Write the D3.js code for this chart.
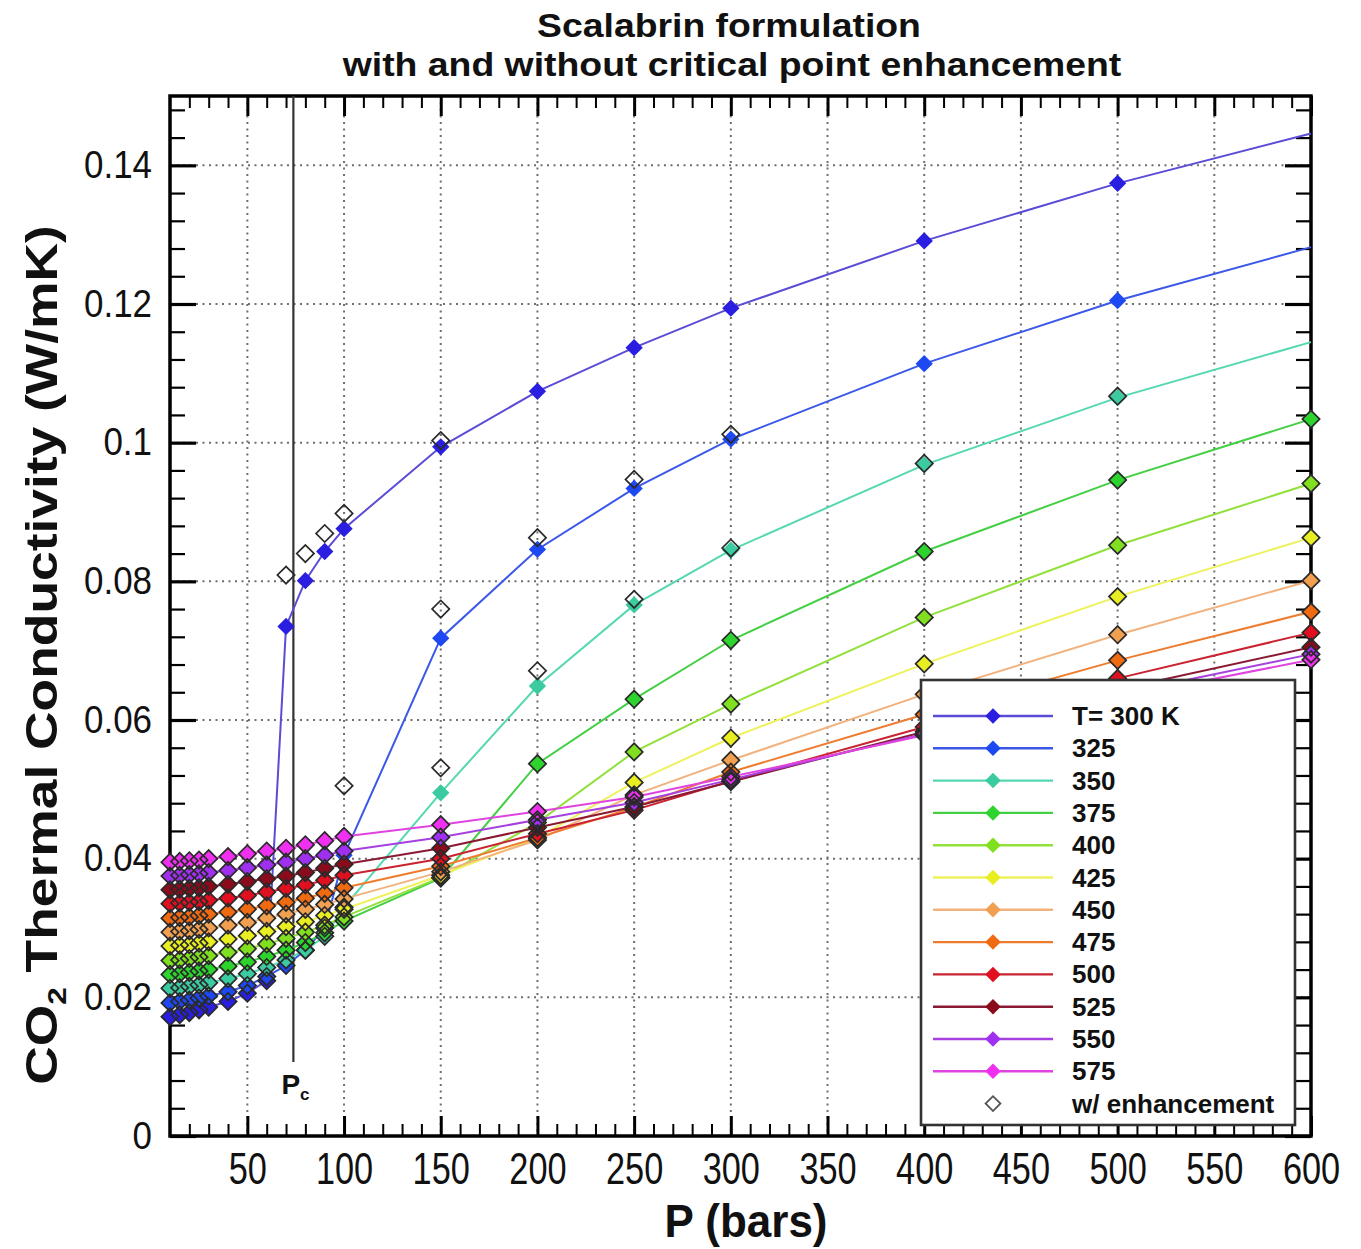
<!DOCTYPE html>
<html><head><meta charset="utf-8">
<script src="https://cdn.jsdelivr.net/npm/d3@7"></script>
<style>body{margin:0;background:#fff} svg{display:block}</style>
</head><body>
<svg id="c" width="1361" height="1249"></svg>
<script>
// ---------------- DATA ----------------
const titleLines = ["Scalabrin formulation", "with and without critical point enhancement"];
const xAxisTitle = "P (bars)";
const pressures = [10,15,20,25,30,40,50,60,70,80,90,100,150,200,250,300,400,500,600];
const temperatures = [300,325,350,375,400,425,450,475,500,525,550,575];
const legendLabels = ["T= 300 K","325","350","375","400","425","450","475","500","525","550","575"];
const enhancementLabel = "w/ enhancement";
const criticalPressure = 73.8;

const k300 = [.0172,.0175,.0178,.0182,.0186,.0194,.0206,.0224,.0735,.0801,.0843,.0876,.0994,.1074,.1137,.1194,.1291,.1374,.1446];
const k325 = [.0192,.0194,.0196,.0199,.0202,.0208,.0217,.0230,.0246,.0268,.0300,.0405,.0718,.0846,.0934,.1005,.1114,.1205,.1282];
const k350 = [.0213,.0214,.0216,.0218,.0221,.0227,.0234,.0243,.0254,.0268,.0288,.0330,.0495,.0649,.0766,.0845,.0968,.1065,.1145];
const k375 = [.0233,.0234,.0236,.0238,.0240,.0245,.0251,.0259,.0268,.0279,.0293,.0310,.0372,.0537,.0630,.0715,.0843,.0946,.1034];
const k400 = [.0253,.0254,.0256,.0258,.0260,.0265,.0270,.0277,.0285,.0294,.0304,.0316,.0373,.0452,.0554,.0623,.0748,.0852,.0941];
const k425 = [.0274,.0275,.0276,.0278,.0280,.0284,.0289,.0295,.0302,.0309,.0318,.0327,.0376,.0430,.0510,.0574,.0681,.0778,.0863];
const k450 = [.0294,.0295,.0296,.0298,.0300,.0304,.0308,.0314,.0320,.0327,.0334,.0342,.0381,.0427,.0492,.0542,.0637,.0723,.0801];
const k475 = [.0314,.0315,.0316,.0318,.0320,.0323,.0327,.0332,.0337,.0343,.0350,.0358,.0389,.0430,.0474,.0525,.0608,.0686,.0756];
const k500 = [.0335,.0336,.0337,.0338,.0340,.0343,.0347,.0352,.0357,.0362,.0369,.0376,.0400,.0436,.0470,.0512,.0590,.0660,.0726];
const k525 = [.0355,.0356,.0357,.0358,.0360,.0363,.0367,.0371,.0375,.0380,.0386,.0392,.0415,.0445,.0475,.0511,.0583,.0644,.0705];
const k550 = [.0375,.0376,.0377,.0378,.0380,.0383,.0387,.0391,.0395,.0400,.0405,.0411,.0431,.0456,.0481,.0514,.0580,.0637,.0695];
const k575 = [.0395,.0396,.0397,.0398,.0400,.0403,.0407,.0411,.0415,.0420,.0426,.0432,.0449,.0468,.0489,.0518,.0578,.0632,.0687];

// with critical point enhancement (null = not plotted)
const e300 = [.0172,.0175,.0178,.0182,.0186,.0194,.0206,.0224,.0809,.0840,.0869,.0898,.1003,null,null,null,null,null,null];
const e325 = [.0192,.0194,.0196,.0199,.0202,.0208,.0217,.0230,.0246,.0268,.0300,.0505,.0760,.0863,.0947,.1012,null,null,null];
const e350 = [.0213,.0214,.0216,.0218,.0221,.0227,.0234,.0243,.0254,.0268,.0288,.0330,.0531,.0671,.0774,.0848,.0970,.1067,null];
const e375 = [.0233,.0234,.0236,.0238,.0240,.0245,.0251,.0259,.0268,.0279,.0293,.0310,.0372,.0537,.0630,.0715,.0843,.0946,.1034];
const e400 = [.0253,.0254,.0256,.0258,.0260,.0265,.0270,.0277,.0285,.0294,.0304,.0316,.0373,.0452,.0554,.0623,.0748,.0852,.0941];
const e425 = [.0274,.0275,.0276,.0278,.0280,.0284,.0289,.0295,.0302,.0309,.0318,.0327,.0376,.0430,.0510,.0574,.0681,.0778,.0863];
const e450 = [.0294,.0295,.0296,.0298,.0300,.0304,.0308,.0314,.0320,.0327,.0334,.0342,.0381,.0427,.0492,.0542,.0637,.0723,.0801];
const e475 = [.0314,.0315,.0316,.0318,.0320,.0323,.0327,.0332,.0337,.0343,.0350,.0358,.0389,.0430,.0474,.0525,.0608,.0686,.0756];
const e500 = [.0335,.0336,.0337,.0338,.0340,.0343,.0347,.0352,.0357,.0362,.0369,.0376,.0400,.0436,.0470,.0512,.0590,.0660,.0726];
const e525 = [.0355,.0356,.0357,.0358,.0360,.0363,.0367,.0371,.0375,.0380,.0386,.0392,.0415,.0445,.0475,.0511,.0583,.0644,.0705];
const e550 = [.0375,.0376,.0377,.0378,.0380,.0383,.0387,.0391,.0395,.0400,.0405,.0411,.0431,.0456,.0481,.0514,.0580,.0637,.0695];
const e575 = [.0395,.0396,.0397,.0398,.0400,.0403,.0407,.0411,.0415,.0420,.0426,.0432,.0449,.0468,.0489,.0518,.0578,.0632,.0687];

const xTickValues = [50,100,150,200,250,300,350,400,450,500,550,600];
const xTickLabels = ["50","100","150","200","250","300","350","400","450","500","550","600"];
const xMinorTicks = [20,30,40,60,70,80,90,110,120,130,140,160,170,180,190,210,220,230,240,260,270,280,290,310,320,330,340,360,370,380,390,410,420,430,440,460,470,480,490,510,520,530,540,560,570,580,590];
const yTickValues = [0,0.02,0.04,0.06,0.08,0.1,0.12,0.14];
const yTickLabels = ["0","0.02","0.04","0.06","0.08","0.1","0.12","0.14"];
const yMinorTicks = [0.004,0.008,0.012,0.016,0.024,0.028,0.032,0.036,0.044,0.048,0.052,0.056,0.064,0.068,0.072,0.076,0.084,0.088,0.092,0.096,0.104,0.108,0.112,0.116,0.124,0.128,0.132,0.136,0.144,0.148];

// ---------------- STYLE ----------------
const baseSeries = [k300,k325,k350,k375,k400,k425,k450,k475,k500,k525,k550,k575];
const enhSeries  = [e300,e325,e350,e375,e400,e425,e450,e475,e500,e525,e550,e575];
const lineColors   = ["#5a4cd6","#3c58e8","#55d8b2","#44cf44","#92e03c","#eef25c","#f2b27e","#ee7c2e","#c92230","#8a1a34","#a640e0","#e044e0"];
const markerColors = ["#2a1fe0","#1e48f2","#3ccba0","#2ed42e","#80e020","#e8ee22","#f0a050","#f06a12","#e01020","#8a0c1c","#a030f0","#f030f0"];
const showLastMarker = [false,false,false,true,true,true,true,true,true,true,true,true];

const L=170, R=1311, T=96, B=1136;
const FONT = "'Liberation Sans', Arial, Helvetica, sans-serif";
const x = d3.scaleLinear().domain([10,600]).range([L,R]);
const y = d3.scaleLinear().domain([0,0.15]).range([B,T]);
const svg = d3.select("#c");
svg.append("rect").attr("width",1361).attr("height",1249).attr("fill","#fff");

// grid
const grid = svg.append("g").attr("stroke","#6e6e6e").attr("stroke-width",2).attr("stroke-dasharray","2,4.5").attr("fill","none");
grid.selectAll("line.v").data(xTickValues.filter(d=>d<600)).join("line")
  .attr("x1",d=>x(d)).attr("x2",d=>x(d)).attr("y1",T).attr("y2",B);
grid.selectAll("line.h").data(yTickValues.filter(d=>d>0)).join("line")
  .attr("x1",L).attr("x2",R).attr("y1",d=>y(d)).attr("y2",d=>y(d));

// axes ticks (inward, all four sides)
function styleAxis(g, w){ g.select(".domain").remove(); g.selectAll(".tick line").attr("stroke","#000").attr("stroke-width",w); }
const gxb = svg.append("g").attr("transform",`translate(0,${B})`)
  .call(d3.axisBottom(x).tickValues(xTickValues).tickSize(-20).tickPadding(16).tickFormat((d,i)=>xTickLabels[i]));
styleAxis(gxb,3);
svg.append("g").attr("transform",`translate(0,${B})`).call(d3.axisBottom(x).tickValues(xMinorTicks).tickSize(-12).tickFormat("")).call(g=>styleAxis(g,2));
svg.append("g").attr("transform",`translate(0,${T})`).call(d3.axisTop(x).tickValues(xTickValues).tickSize(-20).tickFormat("")).call(g=>styleAxis(g,3));
svg.append("g").attr("transform",`translate(0,${T})`).call(d3.axisTop(x).tickValues(xMinorTicks).tickSize(-12).tickFormat("")).call(g=>styleAxis(g,2));
const gyl = svg.append("g").attr("transform",`translate(${L},0)`)
  .call(d3.axisLeft(y).tickValues(yTickValues).tickSize(-26).tickPadding(20).tickFormat((d,i)=>yTickLabels[i]));
styleAxis(gyl,3.2);
svg.append("g").attr("transform",`translate(${L},0)`).call(d3.axisLeft(y).tickValues(yMinorTicks).tickSize(-15).tickFormat("")).call(g=>styleAxis(g,2.2));
svg.append("g").attr("transform",`translate(${R},0)`).call(d3.axisRight(y).tickValues(yTickValues).tickSize(-26).tickFormat("")).call(g=>styleAxis(g,3.2));
svg.append("g").attr("transform",`translate(${R},0)`).call(d3.axisRight(y).tickValues(yMinorTicks).tickSize(-15).tickFormat("")).call(g=>styleAxis(g,2.2));

gxb.selectAll(".tick text").attr("font-family",FONT).attr("font-size",44).attr("fill","#111")
  .attr("transform","scale(0.78,1)").attr("dy","0.72em");
gyl.selectAll(".tick text").attr("font-family",FONT).attr("font-size",38).attr("fill","#111")
  .attr("x",-18).attr("transform","translate(-18,0) scale(0.92,1) translate(18,0)");

// frame
svg.append("rect").attr("x",L).attr("y",T).attr("width",R-L).attr("height",B-T)
  .attr("fill","none").attr("stroke","#000").attr("stroke-width",3.5);

// critical pressure line
svg.append("line").attr("x1",x(criticalPressure)).attr("x2",x(criticalPressure))
  .attr("y1",T).attr("y2",1062).attr("stroke","#333").attr("stroke-width",2.2);
const pc = svg.append("text").attr("x",x(criticalPressure)-12).attr("y",1094)
  .attr("font-family",FONT).attr("font-weight","bold").attr("font-size",28).attr("fill","#111");
pc.append("tspan").text("P");
pc.append("tspan").attr("font-size",17).attr("dy",6).text("c");

// series
const line = d3.line().x((d,i)=>x(pressures[i])).y(d=>y(d));
const diamond = d3.symbol(d3.symbolSquare, 150)();
const plot = svg.append("g");
baseSeries.forEach((s,si)=>{
  plot.append("path").attr("d",line(s)).attr("fill","none").attr("stroke",lineColors[si]).attr("stroke-width",2);
});
baseSeries.forEach((s,si)=>{
  plot.append("g").selectAll("path").data(s.map((v,i)=>({p:pressures[i],v,i})).filter(d=>showLastMarker[si]||d.i<pressures.length-1))
    .join("path").attr("d",diamond)
    .attr("transform",d=>`translate(${x(d.p)},${y(d.v)}) rotate(45)`)
    .attr("fill",markerColors[si]);
});
enhSeries.forEach((s,si)=>{
  plot.append("g").selectAll("path").data(s.map((v,i)=>({p:pressures[i],v})).filter(d=>d.v!==null))
    .join("path").attr("d",diamond)
    .attr("transform",d=>`translate(${x(d.p)},${y(d.v)}) rotate(45)`)
    .attr("fill","none").attr("stroke","#2a2a2a").attr("stroke-width",1.7);
});

// text helper: fit to width by horizontal scaling
function fitted(parent, str, cx, cy, size, targetW, rot){
  const g = parent.append("g");
  const t = g.append("text").attr("font-family",FONT).attr("font-weight","bold").attr("font-size",size)
    .attr("text-anchor","middle").attr("fill","#111");
  if (typeof str === "function") str(t); else t.text(str);
  const w = t.node().getComputedTextLength();
  g.attr("transform",`translate(${cx},${cy}) rotate(${rot||0}) scale(${targetW/w},1)`);
  return g;
}
fitted(svg, titleLines[0], 729, 37, 34, 384);
fitted(svg, titleLines[1], 732, 76, 34, 779);
fitted(svg, xAxisTitle, 746, 1237, 46, 163);
fitted(svg, t=>{
  t.append("tspan").text("CO");
  t.append("tspan").attr("font-size",26).attr("dy",9).text("2");
  t.append("tspan").attr("dy",-9).text(" Thermal Conductivity (W/mK)");
}, 57, 655, 44, 860, -90);

// legend
const lg = svg.append("g");
lg.append("rect").attr("x",921).attr("y",680).attr("width",374).attr("height",445)
  .attr("fill","#fff").attr("stroke","#333").attr("stroke-width",2.6);
const rowY = i => 716 + i*32.3;
temperatures.forEach((tK,i)=>{
  lg.append("line").attr("x1",933).attr("x2",1053).attr("y1",rowY(i)).attr("y2",rowY(i))
    .attr("stroke",lineColors[i]).attr("stroke-width",2.4);
  lg.append("path").attr("d",d3.symbol(d3.symbolSquare,120)()).attr("transform",`translate(993,${rowY(i)}) rotate(45)`)
    .attr("fill",markerColors[i]);
  const tx = lg.append("text").attr("x",1072).attr("y",rowY(i)+9).attr("font-family",FONT).attr("font-weight","bold")
    .attr("font-size",26).attr("fill","#111").text(legendLabels[i]);
});
lg.append("path").attr("d",d3.symbol(d3.symbolSquare,110)()).attr("transform",`translate(993,${rowY(12)}) rotate(45)`)
  .attr("fill","#fff").attr("stroke","#555").attr("stroke-width",1.8);
lg.append("text").attr("x",1072).attr("y",rowY(12)+9).attr("font-family",FONT).attr("font-weight","bold")
  .attr("font-size",26).attr("fill","#111").text(enhancementLabel);
</script>
</body></html>
